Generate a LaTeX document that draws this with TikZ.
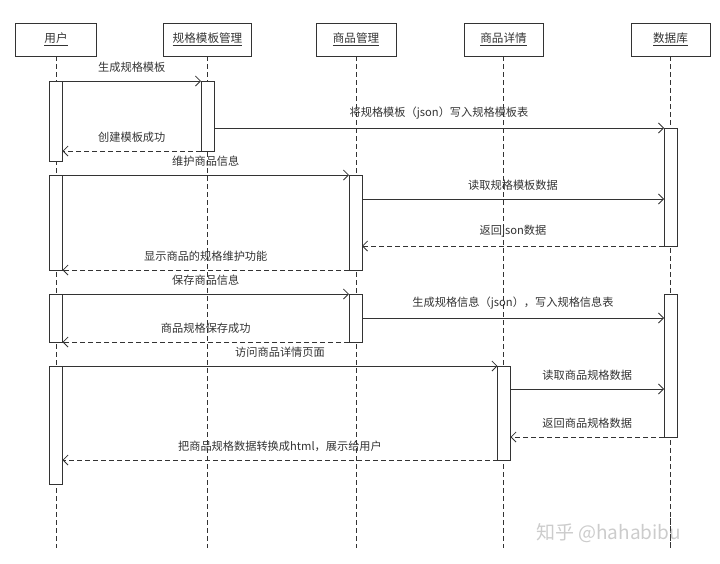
\documentclass[tikz,border=0pt]{standalone}
\usepackage{fontspec}
\setmainfont{Noto Sans CJK SC}
\usetikzlibrary{arrows.meta,calc}
\definecolor{ink}{HTML}{333333}
\definecolor{wm}{HTML}{CCCCCC}
\begin{document}
\begin{tikzpicture}[x=1pt,y=-1pt,
  every node/.style={text=ink},
  head/.style={draw=ink, fill=white, line width=0.8pt, minimum height=33pt, inner sep=0pt,
               font=\fontsize{11.6}{13}\selectfont},
  life/.style={draw=ink, line width=0.8pt, dash pattern=on 5pt off 3pt},
  bar/.style={draw=ink, fill=white, line width=0.8pt, minimum width=13pt, inner sep=0pt,
              outer sep=0pt, anchor=north},
  msg/.style={draw=ink, line width=0.8pt, -{Straight Barb[length=5pt,width=10pt]}},
  ret/.style={msg, dash pattern=on 5pt off 3pt},
  lbl/.style={font=\fontsize{11.2}{13}\selectfont, inner sep=0pt, above=8pt, midway}
]
\useasboundingbox (0,0) rectangle (720,563);

% headers
\node[head, minimum width=81pt] (hu) at (56,39.5) {\underline{用户}};
\node[head, minimum width=88pt] (ht) at (207.5,39.5) {\underline{规格模板管理}};
\node[head, minimum width=80pt] (hp) at (356,39.5) {\underline{商品管理}};
\node[head, minimum width=79pt] (hx) at (503.5,39.5) {\underline{商品详情}};
\node[head, minimum width=79pt] (hd) at (670.5,39.5) {\underline{数据库}};

% lifeline ends
\coordinate (eu) at (hu.south |- 0,548);
\coordinate (et) at (ht.south |- 0,548);
\coordinate (ep) at (hp.south |- 0,548);
\coordinate (ex) at (hx.south |- 0,548);
\coordinate (ed) at (hd.south |- 0,548);
\draw[life] (hu.south) -- (eu);
\draw[life] (ht.south) -- (et);
\draw[life] (hp.south) -- (ep);
\draw[life] (hx.south) -- (ex);
\draw[life] (hd.south) -- (ed);

% watermark
\node[text=wm, anchor=west, inner sep=0pt, font=\fontsize{19}{22}\selectfont] (wmk) at (536,533) {知乎 @hahabibu};
\draw[life] (hd.south |- 0,518) -- (ed);

% activation bars
\node[bar, minimum height=80pt] (u1) at (56,81) {};
\node[bar, minimum height=70pt] (t1) at (207.5,81) {};
\node[bar, minimum height=118pt] (d1) at (670.5,128) {};
\node[bar, minimum height=95pt] (u2) at (56,175) {};
\node[bar, minimum height=95pt] (p1) at (355.5,175) {};
\node[bar, minimum height=48pt] (u3) at (56,294) {};
\node[bar, minimum height=48pt] (p2) at (355.5,294) {};
\node[bar, minimum height=143pt] (d2) at (670.5,294) {};
\node[bar, minimum height=118pt] (u4) at (56,366) {};
\node[bar, minimum height=94pt] (x1) at (504,366) {};

% messages
\draw[msg] (u1.north east) -- (t1.north west) node[lbl] {生成规格模板};
\draw[msg] (t1.east |- 0,128) -- (d1.north west) node[lbl] {将规格模板（json）写入规格模板表};
\draw[ret] (t1.south west) -- (u1.east |- t1.south west) node[lbl] {创建模板成功};
\draw[msg] (u2.north east) -- (p1.north west) node[lbl] {维护商品信息};
\draw[msg] (p1.east |- 0,199) -- (d1.west |- 0,199) node[lbl] {读取规格模板数据};
\draw[ret] (d1.south west) -- (p1.east |- d1.south west) node[lbl] {返回json数据};
\draw[ret] (p1.south west) -- (u2.south east) node[lbl] {显示商品的规格维护功能};
\draw[msg] (u3.north east) -- (p2.north west) node[lbl] {保存商品信息};
\draw[msg] (p2.east |- 0,318) -- (d2.west |- 0,318) node[lbl] {生成规格信息（json），写入规格信息表};
\draw[ret] (p2.south west) -- (u3.south east) node[lbl] {商品规格保存成功};
\draw[msg] (u4.north east) -- (x1.north west) node[lbl] {访问商品详情页面};
\draw[msg] (x1.east |- 0,389) -- (d2.west |- 0,389) node[lbl] {读取商品规格数据};
\draw[ret] (d2.south west) -- (x1.east |- d2.south west) node[lbl] {返回商品规格数据};
\draw[ret] (x1.south west) -- (u4.east |- x1.south west) node[lbl] {把商品规格数据转换成html，展示给用户};
\end{tikzpicture}
\end{document}
